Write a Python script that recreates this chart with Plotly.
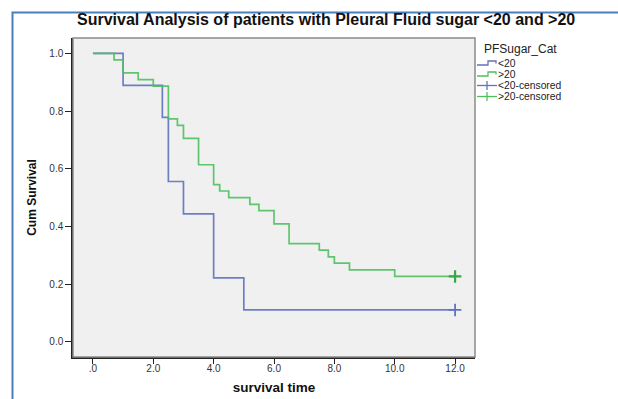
import plotly.graph_objects as go

# ---- data ----
lt20_time = [0, 1, 2.3, 2.5, 3, 4, 5, 12]
lt20_surv = [1.0, 0.889, 0.778, 0.556, 0.444, 0.222, 0.111, 0.111]
gt20_time = [0, 0.7, 1, 1.5, 2, 2.5, 2.8, 3, 3.5, 4, 4.2, 4.5, 5.2, 5.5, 6, 6.5, 7.5, 7.8, 8, 8.5, 10, 12]
gt20_surv = [1.0, 0.977, 0.932, 0.909, 0.886, 0.773, 0.750, 0.705, 0.614, 0.545, 0.523, 0.500,
             0.477, 0.455, 0.409, 0.341, 0.318, 0.295, 0.273, 0.250, 0.227, 0.227]
lt20_cens_time = [12]
lt20_cens_surv = [0.111]
gt20_cens_time = [12]
gt20_cens_surv = [0.227]
x_tickvals = [0, 2, 4, 6, 8, 10, 12]
x_ticktext = [".0", "2.0", "4.0", "6.0", "8.0", "10.0", "12.0"]
y_tickvals = [0, 0.2, 0.4, 0.6, 0.8, 1.0]
y_ticktext = ["0.0", "0.2", "0.4", "0.6", "0.8", "1.0"]
legend_title = "PFSugar_Cat"
legend_labels = ["<20", ">20", "<20-censored", ">20-censored"]

BLUE = "#5f73c0"
GREEN = "#4fc060"
FONT = "Arial, Liberation Sans, sans-serif"

W, H = 618, 399
L, R, T, B = 73, 475, 38, 357  # plot area in pixels


def px(x):
    return (x - L) / (R - L)


def py(y):
    return (B - y) / (B - T)


fig = go.Figure()
fig.add_trace(go.Scatter(x=lt20_time, y=lt20_surv, mode="lines", line_shape="hv",
                         line=dict(color=BLUE, width=1.7), opacity=0.9, name="<20"))
fig.add_trace(go.Scatter(x=gt20_time, y=gt20_surv, mode="lines", line_shape="hv",
                         line=dict(color=GREEN, width=1.7), opacity=0.9, name=">20"))
fig.add_trace(go.Scatter(x=lt20_cens_time, y=lt20_cens_surv, mode="markers",
                         marker=dict(symbol="cross-thin", size=9, line=dict(color=BLUE, width=1.8)),
                         name="<20-censored"))
fig.add_trace(go.Scatter(x=gt20_cens_time, y=gt20_cens_surv, mode="markers",
                         marker=dict(symbol="cross-thin", size=9, line=dict(color="#33a845", width=2.2)),
                         name=">20-censored"))

shapes = []
# outer blue frame
shapes.append(dict(type="rect", xref="paper", yref="paper",
                   x0=px(12.5), x1=px(640), y0=py(420), y1=py(12.5),
                   line=dict(color="#4a7ebb", width=2), layer="above"))
# plot border (top/right gray)
shapes.append(dict(type="rect", xref="paper", yref="paper", x0=0, x1=1, y0=0, y1=1,
                   line=dict(color="#8a8a8a", width=1.5), layer="above"))

# custom legend
icon_x0, icon_x1 = 477, 497
item_y = [63.5, 74.5, 85.5, 96.5]
colors = [BLUE, GREEN, BLUE, GREEN]
for i, (lab, yy, c) in enumerate(zip(legend_labels, item_y, colors)):
    if i < 2:
        path = "M{},{} L{},{} L{},{} L{},{} L{},{}".format(
            px(icon_x0), py(yy + 1.5), px(488), py(yy + 1.5), px(488), py(yy - 2.5),
            px(496), py(yy - 2.5), px(496), py(yy))
        shapes.append(dict(type="path", xref="paper", yref="paper", path=path,
                           line=dict(color=c, width=1.3)))
    else:
        shapes.append(dict(type="line", xref="paper", yref="paper",
                           x0=px(icon_x0), x1=px(icon_x1), y0=py(yy), y1=py(yy),
                           line=dict(color=c, width=1.3)))
        shapes.append(dict(type="line", xref="paper", yref="paper",
                           x0=px(487), x1=px(487), y0=py(yy - 4.5), y1=py(yy + 4.5),
                           line=dict(color=c, width=1.3)))

annotations = [
    dict(text="<b>Survival Analysis of patients with Pleural Fluid sugar &lt;20 and &gt;20</b>",
         xref="paper", yref="paper", x=px(326), y=py(20), xanchor="center", yanchor="middle",
         showarrow=False, font=dict(family=FONT, size=16, color="#111")),
    dict(text=legend_title, xref="paper", yref="paper", x=px(482), y=py(48.5),
         xanchor="left", yanchor="middle", showarrow=False,
         font=dict(family=FONT, size=12, color="#222")),
]
for lab, yy in zip(legend_labels, item_y):
    annotations.append(dict(text=lab.replace("<", "&lt;").replace(">", "&gt;"),
                            xref="paper", yref="paper", x=px(497), y=py(yy),
                            xanchor="left", yanchor="middle", showarrow=False,
                            borderpad=0,
                            font=dict(family=FONT, size=10.3, color="#222")))

fig.update_layout(
    width=W, height=H,
    margin=dict(l=L, r=W - R, t=T, b=H - B, pad=0, autoexpand=False),
    paper_bgcolor="white", plot_bgcolor="#f0f0f0",
    showlegend=False,
    shapes=shapes, annotations=annotations,
    font=dict(family=FONT, size=10, color="#333"),
)
fig.update_xaxes(range=[-0.66, 12.66], tickvals=x_tickvals, ticktext=x_ticktext,
                 automargin=False,
                 showgrid=False, zeroline=False, showline=True, linecolor="#222", linewidth=1.5,
                 ticks="outside", ticklen=5, tickwidth=1.2, tickcolor="#222",
                 ticklabelstandoff=-4,
                 tickfont=dict(family=FONT, size=10, color="#333"),
                 title=dict(text="<b>survival time</b>", standoff=10,
                            font=dict(family=FONT, size=13.5, color="#111")))
fig.update_yaxes(range=[-0.052, 1.053], tickvals=y_tickvals, ticktext=y_ticktext,
                 automargin=False,
                 showgrid=False, zeroline=False, showline=True, linecolor="#222", linewidth=1.5,
                 ticks="outside", ticklen=6, tickwidth=1.2, tickcolor="#222",
                 tickfont=dict(family=FONT, size=10, color="#333"),
                 title=dict(text="<b>Cum Survival</b>", standoff=10,
                            font=dict(family=FONT, size=12, color="#111")))

fig.write_html("out.html")
